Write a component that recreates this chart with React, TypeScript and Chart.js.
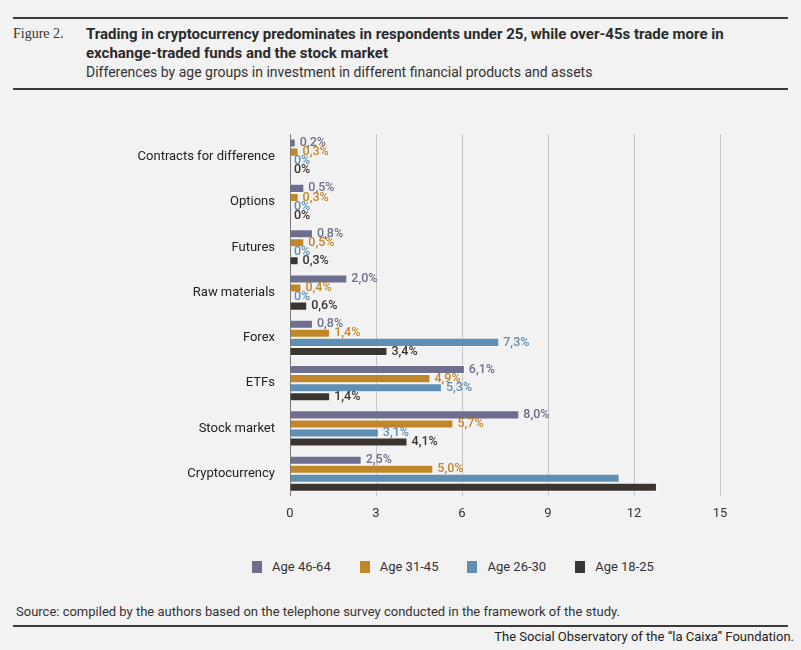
import React, { useEffect, useRef } from "react";
import { Chart, registerables } from "chart.js";
Chart.register(...registerables);

const categories = ["Contracts for difference", "Options", "Futures", "Raw materials", "Forex", "ETFs", "Stock market", "Cryptocurrency"];
const age4664 = [0.2, 0.5, 0.8, 2.0, 0.8, 6.1, 8.0, 2.5];
const age3145 = [0.3, 0.3, 0.5, 0.4, 1.4, 4.9, 5.7, 5.0];
const age2630 = [0, 0, 0, 0, 7.3, 5.3, 3.1, 11.5];
const age1825 = [0, 0, 0.3, 0.6, 3.4, 1.4, 4.1, 12.8];
const labels4664 = ["0,2%", "0,5%", "0,8%", "2,0%", "0,8%", "6,1%", "8,0%", "2,5%"];
const labels3145 = ["0,3%", "0,3%", "0,5%", "0,4%", "1,4%", "4,9%", "5,7%", "5,0%"];
const labels2630 = ["0%", "0%", "0%", "0%", "7,3%", "5,3%", "3,1%", ""];
const labels1825 = ["0%", "0%", "0,3%", "0,6%", "3,4%", "1,4%", "4,1%", ""];
const xTicks = [0, 3, 6, 9, 12, 15];
const seriesNames = ["Age 46-64", "Age 31-45", "Age 26-30", "Age 18-25"];
const seriesColors = ["#6e6e8e", "#c2862a", "#5f8fb5", "#3a3530"];

const FONT = "'Roboto', sans-serif";

export default function App() {
  const ref = useRef<HTMLCanvasElement>(null);
  useEffect(() => {
    document.body.style.margin = "0";
    document.body.style.background = "#f2f2f2";
    const valueLabels = [labels4664, labels3145, labels2630, labels1825];
    const labelPlugin = {
      id: "vl",
      afterDatasetsDraw(chart: any) {
        const ctx = chart.ctx;
        ctx.save();
        ctx.font = `500 12.5px ${FONT}`;
        ctx.textBaseline = "middle";
        chart.data.datasets.forEach((ds: any, i: number) => {
          const meta = chart.getDatasetMeta(i);
          meta.data.forEach((bar: any, j: number) => {
            const t = valueLabels[i][j];
            if (!t) return;
            ctx.fillStyle = ds.backgroundColor;
            ctx.fillText(t, bar.x + 4, bar.y);
          });
        });
        ctx.restore();
      },
    };
    const datasets = [age4664, age3145, age2630, age1825].map((data, i) => ({
      label: seriesNames[i], data, backgroundColor: seriesColors[i],
      borderColor: "rgba(255,255,255,0.5)", borderWidth: 1,
      categoryPercentage: 0.8, barPercentage: 1,
    }));
    const chart = new Chart(ref.current!, {
      type: "bar",
      data: { labels: categories, datasets },
      options: {
        indexAxis: "y",
        animation: false,
        responsive: false,
        layout: { padding: { top: 34, right: 81, bottom: 8, left: 0 } },
        scales: {
          x: {
            min: 0, max: 15,
            afterBuildTicks: (s: any) => { s.ticks = xTicks.map((v) => ({ value: v })); },
            grid: { color: (c: any) => (c.tick && c.tick.value === 0 ? "#777" : "#c4c4c4"), drawTicks: false },
            border: { display: false },
            ticks: { color: "#333", font: { family: FONT, size: 13 }, padding: 10 },
          },
          y: {
            afterFit: (s: any) => { s.width = 290; },
            grid: { display: false },
            border: { display: false },
            ticks: { color: "#222", font: { family: FONT, size: 13 }, padding: 7 },
          },
        },
        plugins: { legend: { display: false }, tooltip: { enabled: false } },
      },
      plugins: [labelPlugin],
    });
    return () => chart.destroy();
  }, []);
  const sans = FONT;
  return (
    <div style={{ position: "relative", width: 801, height: 650, background: "#f2f2f2", overflow: "hidden" }}>
      <div style={{ position: "absolute", left: 13, right: 13, top: 17, height: 2, background: "#3a3a3a" }} />
      <div style={{ position: "absolute", left: 13, top: 26, fontFamily: "'Liberation Serif', serif", fontSize: 14, color: "#333" }}>Figure 2.</div>
      <div style={{ position: "absolute", left: 86, top: 25, width: 700, fontFamily: sans, fontWeight: 700, fontSize: 15, lineHeight: "19px", color: "#2a2a2a" }}>
        Trading in cryptocurrency predominates in respondents under 25, while over-45s trade more in exchange-traded funds and the stock market
      </div>
      <div style={{ position: "absolute", left: 86, top: 64, fontFamily: sans, fontSize: 14, color: "#333" }}>
        Differences by age groups in investment in different financial products and assets
      </div>
      <div style={{ position: "absolute", left: 13, right: 13, top: 88, height: 2, background: "#3a3a3a" }} />
      <canvas ref={ref} width={801} height={440} style={{ position: "absolute", left: 0, top: 100 }} />
      <div style={{ position: "absolute", left: 252, top: 559, display: "flex", fontFamily: sans, fontSize: 13, color: "#333" }}>
        {seriesNames.map((n, i) => (
          <div key={n} style={{ display: "flex", alignItems: "center", marginRight: i < 3 ? 29 : 0 }}>
            <span style={{ width: 10, height: 12, background: seriesColors[i], display: "inline-block", marginRight: 10 }} />
            {n}
          </div>
        ))}
      </div>
      <div style={{ position: "absolute", left: 16, top: 604, fontFamily: sans, fontSize: 13, color: "#333" }}>
        Source: compiled by the authors based on the telephone survey conducted in the framework of the study.
      </div>
      <div style={{ position: "absolute", left: 13, right: 13, top: 625, height: 2, background: "#3a3a3a" }} />
      <div style={{ position: "absolute", right: 7, top: 629, fontFamily: sans, fontSize: 13, color: "#222" }}>
        The Social Observatory of the “la Caixa” Foundation.
      </div>
    </div>
  );
}
